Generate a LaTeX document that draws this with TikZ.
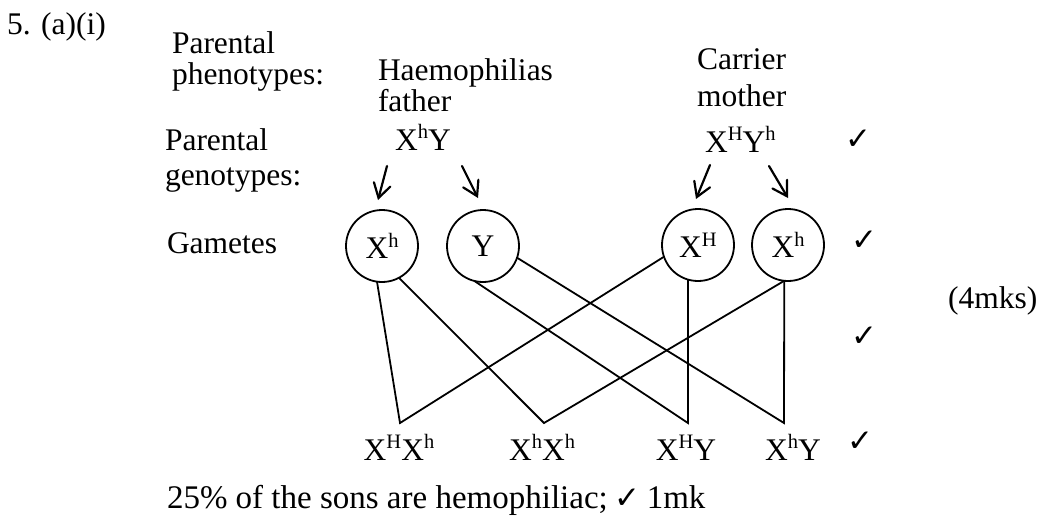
\documentclass[tikz,border=0pt]{standalone}
\usepackage{fontspec}
\setmainfont{Liberation Serif}
\newfontfamily\symfont{DejaVu Sans}
\usetikzlibrary{arrows.meta}

% superscript allele letters
\newcommand{\al}[1]{\raisebox{0.36em}{\fontsize{20.5}{20}\selectfont #1}}
% tick mark
\newcommand{\tick}{{\symfont\fontsize{31}{31}\selectfont ✓}}

\begin{document}
\begin{tikzpicture}[x=1pt,y=-1pt,
  txt/.style={inner sep=0pt, outer sep=0pt, anchor=base west,
    font=\fontsize{31.5}{30}\selectfont},
  ctr/.style={txt, anchor=base},
  tickmark/.style={inner sep=0pt, outer sep=0pt, anchor=center},
  gamete/.style={circle, draw, line width=1.8pt, minimum size=72pt,
    inner sep=0pt, outer sep=0pt, font=\fontsize{31.5}{30}\selectfont},
  link/.style={line width=1.8pt, line join=miter},
  parr/.style={line width=2.2pt, line cap=round,
    -{Straight Barb[length=14pt, width=17pt, line cap=round]}}
]
\useasboundingbox (0,0) rectangle (1040,515);

% headings and row labels
\node[txt] (q)     at (7,34)    {5. (a)(i)};
\node[txt] (ph1)   at (172,53)  {Parental};
\node[txt] (ph2)   at (172,84)  {phenotypes:};
\node[txt] (gt1)   at (165,150) {Parental};
\node[txt] (gt2)   at (165,185) {genotypes:};
\node[txt] (gam)   at (167,253) {Gametes};

% parents
\node[txt] (fph1)  at (378,80)  {Haemophilias};
\node[txt] (fph2)  at (378,111) {father};
\node[txt] (fgt)   at (395,150) {X\al{h}Y};
\node[txt] (mph1)  at (697,69)  {Carrier};
\node[txt] (mph2)  at (697,106) {mother};
\node[txt] (mgt)   at (705,152) {X\al{H}Y\al{h}};

% gametes
\node[gamete] (g1) at (382,246) {X\al{h}};
\node[gamete] (g2) at (483,246) {Y};
\node[gamete] (g3) at (698,245) {X\al{H}};
\node[gamete] (g4) at (788,245) {X\al{h}};

% arrows from genotypes to gametes
\coordinate (a1s) at (387,166); \coordinate (a1e) at (378,200);
\coordinate (a2s) at (462,166); \coordinate (a2e) at (478,198);
\coordinate (a3s) at (710,165); \coordinate (a3e) at (696,199);
\coordinate (a4s) at (769,166); \coordinate (a4e) at (788,198);
\draw[parr] (a1s) -- (a1e);
\draw[parr] (a2s) -- (a2e);
\draw[parr] (a3s) -- (a3e);
\draw[parr] (a4s) -- (a4e);

% offspring
\node[ctr] (o1) at (399,460) {X\al{H}X\al{h}};
\node[ctr] (o2) at (542,460) {X\al{h}X\al{h}};
\node[ctr] (o3) at (686,460) {X\al{H}Y};
\node[ctr] (o4) at (793,460) {X\al{h}Y};
\coordinate (v1) at (400,423);
\coordinate (v2) at (544,423);
\coordinate (v3) at (688,423);
\coordinate (v4) at (784,423);

% fertilisation lines
\draw[link] (g1.-98)  -- (v1) -- (g3.-161);
\draw[link] (g1.-62)  -- (v2) -- (g4.-96);
\draw[link] (g2.-104) -- (v3) -- (g3.-106);
\draw[link] (g2.-19)  -- (v4) -- (g4.-96);

% marks
\node[tickmark] (t1) at (858,140) {\tick};
\node[tickmark] (t2) at (864,241) {\tick};
\node[txt]  (mk) at (948,308) {(4mks)};
\node[tickmark] (t3) at (864,337) {\tick};
\node[tickmark] (t4) at (860,442) {\tick};

% conclusion
\node[txt, font=\fontsize{33}{30}\selectfont] (c) at (167,508)
  {25\% of the sons are hemophiliac;\hspace{7pt}\tick\hspace{6pt}1mk};
\end{tikzpicture}
\end{document}
